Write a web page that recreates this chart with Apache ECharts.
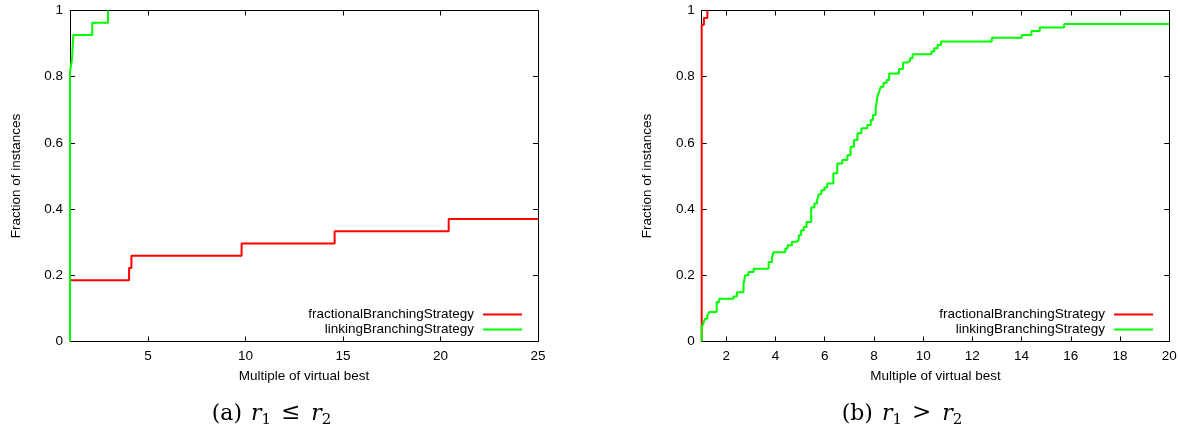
<!DOCTYPE html>
<html>
<head>
<meta charset="utf-8">
<script src="https://cdn.jsdelivr.net/npm/echarts@6/dist/echarts.min.js"></script>
<style>
html,body{margin:0;padding:0;background:#fff;}
#chart{width:1180px;height:433px;}
</style>
</head>
<body>
<div id="chart"></div>
<script>
// ---- Data ----
const seriesNames = ['fractionalBranchingStrategy', 'linkingBranchingStrategy'];
const xAxisTitle = 'Multiple of virtual best';
const yAxisTitle = 'Fraction of instances';
const captionA = ['(a)', 'r', '1', '≤', 'r', '2'];
const captionB = ['(b)', 'r', '1', '>', 'r', '2'];

// Panel (a): r1 <= r2
const leftFracX = [1, 1, 4.03, 4.15, 9.80, 14.57, 20.42, 25];
const leftFracY = [0, 0.185, 0.222, 0.259, 0.296, 0.333, 0.370, 0.370];
const leftLinkX = [1, 1, 1.10, 1.17, 2.14, 2.95];
const leftLinkY = [0, 0.815, 0.852, 0.926, 0.963, 1.0];
const leftXTicks = [5, 10, 15, 20, 25];

// Panel (b): r1 > r2
const rightFracX = [1, 1, 1.09, 1.23];
const rightFracY = [0, 0.957, 0.977, 1.0];
const rightLinkX = [1, 1, 1.065, 1.135, 1.23, 1.31, 1.61, 1.71, 2.29, 2.43,
  2.70, 2.77, 2.90, 3.11, 3.72, 3.86, 3.92, 4.40, 4.49, 4.67,
  4.85, 4.94, 5.04, 5.15, 5.26, 5.45, 5.58, 5.69, 5.76, 5.86,
  5.99, 6.10, 6.35, 6.51, 6.71, 6.92, 7.05, 7.19, 7.33, 7.49,
  7.73, 7.87, 7.96, 8.07, 8.14, 8.21, 8.28, 8.39, 8.52, 8.62,
  9.02, 9.18, 9.37, 9.47, 9.57, 10.34, 10.45, 10.59, 10.73, 12.79,
  14.01, 14.40, 14.74, 15.73, 20];
const rightLinkY = [0, 0.043, 0.054, 0.069, 0.079, 0.089, 0.119, 0.129, 0.136, 0.149,
  0.175, 0.200, 0.210, 0.220, 0.240, 0.255, 0.270, 0.281, 0.291, 0.301,
  0.306, 0.321, 0.336, 0.346, 0.361, 0.405, 0.417, 0.427, 0.445, 0.457,
  0.465, 0.477, 0.508, 0.538, 0.548, 0.563, 0.588, 0.609, 0.629, 0.644,
  0.654, 0.669, 0.684, 0.704, 0.740, 0.755, 0.770, 0.782, 0.790, 0.810,
  0.823, 0.843, 0.848, 0.856, 0.868, 0.876, 0.886, 0.896, 0.906, 0.918,
  0.926, 0.938, 0.949, 0.959, 0.959];
const rightXTicks = [2, 4, 6, 8, 10, 12, 14, 16, 18, 20];

const yTicks = [0, 0.2, 0.4, 0.6, 0.8, 1];
const yTickLabels = ['0', '0.2', '0.4', '0.6', '0.8', '1'];

// ---- Styling ----
const FONT = "'Liberation Sans', Arial, Helvetica, sans-serif";
const SERIF = "'DejaVu Serif', 'Liberation Serif', serif";
const FS = 13.5;
const RED = '#ff0000';
const GREEN = '#00ff00';

function zip(xs, ys) { return xs.map((x, i) => [x, ys[i]]); }

const axisLine = { show: true, onZero: false, lineStyle: { color: '#000', width: 1 } };

function xAxes(gridIndex, min, max, ticks) {
  return [
    {
      type: 'value', gridIndex, min, max, position: 'bottom',
      axisLine,
      axisTick: { show: true, inside: true, length: 5, customValues: ticks, lineStyle: { color: '#000' } },
      axisLabel: { show: true, customValues: ticks, margin: 8, color: '#000', fontSize: FS, fontFamily: FONT },
      splitLine: { show: false },
      name: xAxisTitle, nameLocation: 'middle', nameGap: 28,
      nameTextStyle: { color: '#000', fontSize: FS, fontFamily: FONT }
    },
    {
      type: 'value', gridIndex, min, max, position: 'top',
      axisLine,
      axisTick: { show: true, inside: true, length: 5, customValues: ticks, lineStyle: { color: '#000' } },
      axisLabel: { show: false },
      splitLine: { show: false }
    }
  ];
}

function yAxes(gridIndex) {
  return [
    {
      type: 'value', gridIndex, min: 0, max: 1, position: 'left',
      axisLine,
      axisTick: { show: true, inside: true, length: 5, customValues: yTicks, lineStyle: { color: '#000' } },
      axisLabel: {
        show: true, customValues: yTicks, margin: 7, color: '#000', fontSize: FS, fontFamily: FONT,
        formatter: v => { const i = yTicks.findIndex(t => Math.abs(t - v) < 1e-9); return i >= 0 ? yTickLabels[i] : ''; }
      },
      splitLine: { show: false },
      name: yAxisTitle, nameLocation: 'middle', nameGap: 47, nameRotate: 90,
      nameTextStyle: { color: '#000', fontSize: FS, fontFamily: FONT }
    },
    {
      type: 'value', gridIndex, min: 0, max: 1, position: 'right',
      axisLine,
      axisTick: { show: true, inside: true, length: 5, customValues: yTicks, lineStyle: { color: '#000' } },
      axisLabel: { show: false },
      splitLine: { show: false }
    }
  ];
}

function lineSeries(name, xIdx, yIdx, data, color) {
  return {
    type: 'line', name, xAxisIndex: xIdx, yAxisIndex: yIdx,
    data, step: 'end', showSymbol: false, symbol: 'none',
    lineStyle: { color, width: 2 }, itemStyle: { color },
    animation: false, clip: false
  };
}

function legend(right) {
  return {
    orient: 'vertical', right, top: 307, align: 'right',
    icon: 'rect', itemWidth: 39, itemHeight: 2, itemGap: 0,
    padding: 0,
    data: seriesNames,
    textStyle: { color: '#000', fontSize: FS, fontFamily: FONT, lineHeight: 15, padding: [0, 4, 0, 0] }
  };
}

function caption(parts, left) {
  return {
    type: 'text', left, top: 402,
    style: {
      text: '{n|' + parts[0] + '}{i1|' + parts[1] + '}{s|' + parts[2] + '}{rel|' + parts[3] + '}{i2|' + parts[4] + '}{s|' + parts[5] + '}',
      rich: {
        n: { fontFamily: SERIF, fontSize: 22, fill: '#000', verticalAlign: 'bottom', padding: [0, 0, 3, 0] },
        i1: { fontFamily: SERIF, fontSize: 22, fontStyle: 'italic', fill: '#000', verticalAlign: 'bottom', padding: [0, 0, 3, 9] },
        i2: { fontFamily: SERIF, fontSize: 22, fontStyle: 'italic', fill: '#000', verticalAlign: 'bottom', padding: [0, 0, 3, 0] },
        rel: { fontFamily: SERIF, fontSize: 23, fill: '#000', verticalAlign: 'bottom', padding: [0, 11, 3, 10] },
        s: { fontFamily: SERIF, fontSize: 15, fill: '#000', verticalAlign: 'bottom', padding: [0, 0, 0, 0] }
      }
    }
  };
}

const chart = echarts.init(document.getElementById('chart'), null, { renderer: 'canvas' });
chart.setOption({
  backgroundColor: '#fff',
  animation: false,
  grid: [
    { left: 70, top: 10.5, width: 468, height: 331 },
    { left: 701.7, top: 10.5, width: 467.5, height: 331 }
  ],
  xAxis: [...xAxes(0, 1, 25, leftXTicks), ...xAxes(1, 1, 20, rightXTicks)],
  yAxis: [...yAxes(0), ...yAxes(1)],
  legend: [legend(658), legend(27)],
  series: [
    lineSeries(seriesNames[0], 0, 0, zip(leftFracX, leftFracY), RED),
    lineSeries(seriesNames[1], 0, 0, zip(leftLinkX, leftLinkY), GREEN),
    lineSeries(seriesNames[0], 2, 2, zip(rightFracX, rightFracY), RED),
    lineSeries(seriesNames[1], 2, 2, zip(rightLinkX, rightLinkY), GREEN)
  ],
  graphic: [caption(captionA, 211.7), caption(captionB, 841.7)]
});
</script>
</body>
</html>
